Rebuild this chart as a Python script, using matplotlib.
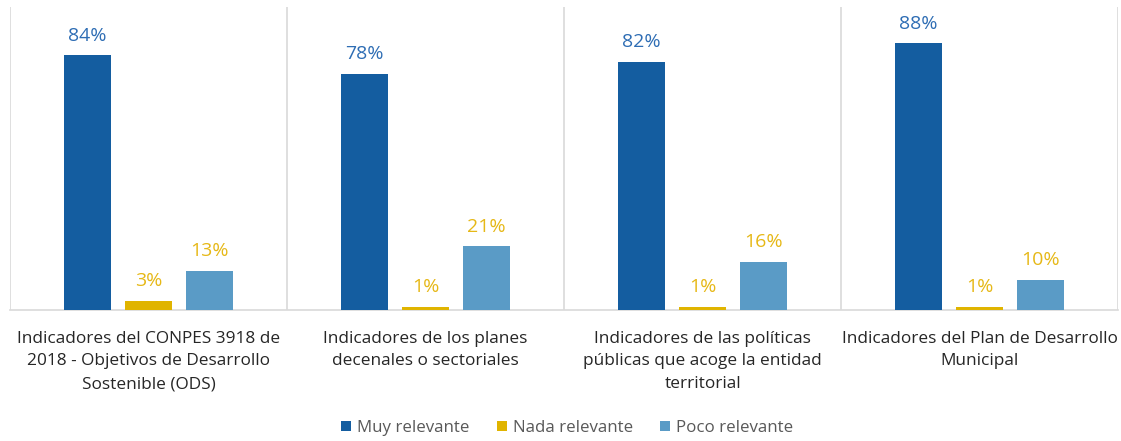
import matplotlib
matplotlib.use("Agg")
import matplotlib.pyplot as plt
import numpy as np

categories = [
    "Indicadores del CONPES 3918 de\n2018 - Objetivos de Desarrollo\nSostenible (ODS)",
    "Indicadores de los planes\ndecenales o sectoriales",
    "Indicadores de las políticas\npúblicas que acoge la entidad\nterritorial",
    "Indicadores del Plan de Desarrollo\nMunicipal",
]
series_names = ["Muy relevante", "Nada relevante", "Poco relevante"]
muy = [0.84, 0.78, 0.82, 0.88]
nada = [0.03, 0.01, 0.01, 0.01]
poco = [0.13, 0.21, 0.16, 0.10]

bar_colors = ["#145DA0", "#E0B400", "#5A9BC6"]
label_colors = ["#2E6DB4", "#E6B817", "#E6B817"]

plt.rcParams['font.family'] = ['Open Sans', 'DejaVu Sans']

fig = plt.figure(figsize=(11.21, 4.41), dpi=100)
ax = fig.add_axes([10/1121, (441-310)/441, (1118-10)/1121, (310-7)/441])

x = np.arange(len(categories))
step = 0.22
width = 0.17
for i, (vals, name) in enumerate(zip([muy, nada, poco], series_names)):
    pos = x + (i - 1) * step
    ax.bar(pos, vals, width=width, color=bar_colors[i], label=name, zorder=3)
    for p, v in zip(pos, vals):
        ax.text(p, v + 0.035, f"{round(v*100)}%", ha="center", va="bottom",
                fontsize=14, color=label_colors[i])

ax.set_xlim(-0.5, 3.5)
ax.set_ylim(0, 1.0)
ax.set_yticks([])
ax.set_xticks(x)
ax.set_xticklabels(categories, fontsize=12.4, color="#262626", linespacing=1.55)
ax.tick_params(axis="x", length=0, pad=15)
for s in ["top", "right", "left"]:
    ax.spines[s].set_visible(False)
ax.spines["bottom"].set_color("#D9D9D9")
ax.spines["bottom"].set_linewidth(1.2)
for b in [-0.5, 0.5, 1.5, 2.5, 3.5]:
    ax.axvline(b, color="#D9D9D9", linewidth=1.2, zorder=1)

leg = fig.legend(loc="center", bbox_to_anchor=(0.506, 1 - 428/441), ncol=3,
                 frameon=False, fontsize=12.2, handlelength=0.6, handleheight=0.6,
                 handletextpad=0.35, columnspacing=1.6)
for t in leg.get_texts():
    t.set_color("#595959")

fig.savefig("out.png", dpi=100)
